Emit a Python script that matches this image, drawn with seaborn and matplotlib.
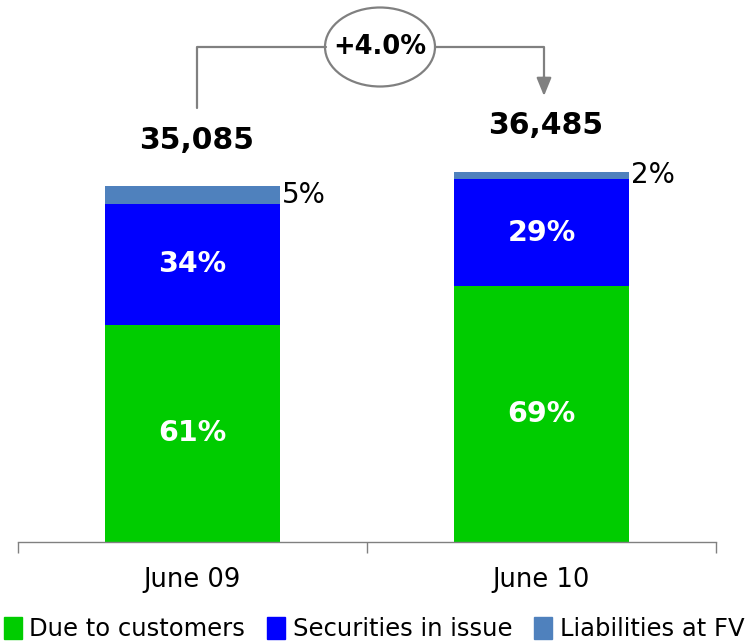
import matplotlib
matplotlib.use("Agg")
import matplotlib.pyplot as plt
from matplotlib.patches import Ellipse
import seaborn as sns

PERIODS = ["June 09", "June 10"]
TOTALS = [35085, 36485]
DUE_TO_CUSTOMERS = [61, 69]
SECURITIES_IN_ISSUE = [34, 29]
LIABILITIES_AT_FV = [5, 2]
SERIES_NAMES = ["Due to customers", "Securities in issue", "Liabilities at FV"]
GROWTH_LABEL = "+4.0%"

COLORS = ["#00CC00", "#0000FF", "#4F81BD"]
GREY = "#808080"


def stacked_levels():
    # cumulative share of each total, bottom segment first
    shares = [DUE_TO_CUSTOMERS, SECURITIES_IN_ISSUE, LIABILITIES_AT_FV]
    levels = []
    running = [0.0] * len(TOTALS)
    for share in shares:
        running = [r + t * s / 100.0 for r, t, s in zip(running, TOTALS, share)]
        levels.append(list(running))
    return shares, levels


def main() -> None:
    sns.set_style("white")
    plt.rcParams["font.family"] = ["DejaVu Sans"]
    plt.rcParams["text.color"] = "black"
    plt.rcParams["xtick.color"] = "black"

    fig = plt.figure(figsize=(7.48, 6.43), dpi=100)
    ax = fig.add_axes([18 / 748, 101 / 643, 698 / 748, 542 / 643])

    shares, levels = stacked_levels()

    # tallest first so the lower segments sit on top of it
    for level, color in zip(reversed(levels), reversed(COLORS)):
        sns.barplot(x=PERIODS, y=level, color=color, saturation=1,
                    width=0.5, ax=ax, linewidth=0)

    bar_w = 0.5
    for i in range(len(PERIODS)):
        bottom = 0.0
        for j, (share, level) in enumerate(zip(shares, levels)):
            top = level[i]
            mid = (bottom + top) / 2
            if j < 2:
                ax.text(i, mid, f"{share[i]}%", ha="center", va="center",
                        color="white", fontsize=20.5, fontweight="bold")
            else:
                ax.text(i + bar_w / 2 + 0.006, mid, f"{share[i]}%",
                        ha="left", va="center", color="black", fontsize=20)
            bottom = top
        ax.annotate(f"{TOTALS[i]:,}", xy=(i + 0.013, TOTALS[i]),
                    xytext=(0, 33), textcoords="offset points",
                    ha="center", va="center", fontsize=21.5, fontweight="bold")

    ax.set_xlim(-0.5, 1.5)
    ax.set_ylim(0, 53400)
    ax.set_yticks([])
    ax.set_xticks([-0.5, 0.5, 1.5])
    ax.set_xticklabels([])
    ax.set_xticks([0, 1], minor=True)
    ax.set_xticklabels(PERIODS, minor=True, fontsize=18.5)
    ax.tick_params(axis="x", which="major", direction="out", length=8,
                   width=1, color=GREY, bottom=True)
    ax.tick_params(axis="x", which="minor", length=0, pad=18)
    for side in ["top", "right", "left"]:
        ax.spines[side].set_visible(False)
    ax.spines["bottom"].set_color(GREY)
    ax.spines["bottom"].set_linewidth(1)
    ax.set_xlabel("")
    ax.set_ylabel("")

    # growth bracket between the two totals
    def fx(px):
        return px / 748

    def fy(py):
        return 1 - py / 643

    line_kw = dict(color=GREY, lw=1.6, transform=fig.transFigure)
    fig.add_artist(plt.Line2D([fx(197), fx(197), fx(326)],
                              [fy(108), fy(47), fy(47)], **line_kw))
    fig.add_artist(plt.Line2D([fx(435), fx(544), fx(544)],
                              [fy(47), fy(47), fy(78)], **line_kw))
    ax.annotate("", xy=(fx(544), fy(96)), xytext=(fx(544), fy(76)),
                xycoords="figure fraction", textcoords="figure fraction",
                arrowprops=dict(arrowstyle="-|>,head_width=0.45,head_length=1.1",
                                color=GREY, lw=1.6, shrinkA=0, shrinkB=0))
    fig.add_artist(Ellipse((fx(380), fy(47)), 110 / 748, 79 / 643,
                           transform=fig.transFigure, facecolor="white",
                           edgecolor=GREY, lw=1.6))
    fig.text(fx(380), fy(47), GROWTH_LABEL, ha="center", va="center",
             fontsize=18.5, fontweight="bold")

    handles = [plt.Rectangle((0, 0), 1, 1, color=c) for c in COLORS]
    fig.legend(handles, SERIES_NAMES, loc="lower center",
               bbox_to_anchor=(0.5, -0.012), ncol=3, frameon=False,
               fontsize=17.5, handlelength=0.75, handleheight=1.0,
               handletextpad=0.3, columnspacing=0.9, borderaxespad=0)

    fig.savefig("out.png", dpi=100)


if __name__ == "__main__":
    main()
